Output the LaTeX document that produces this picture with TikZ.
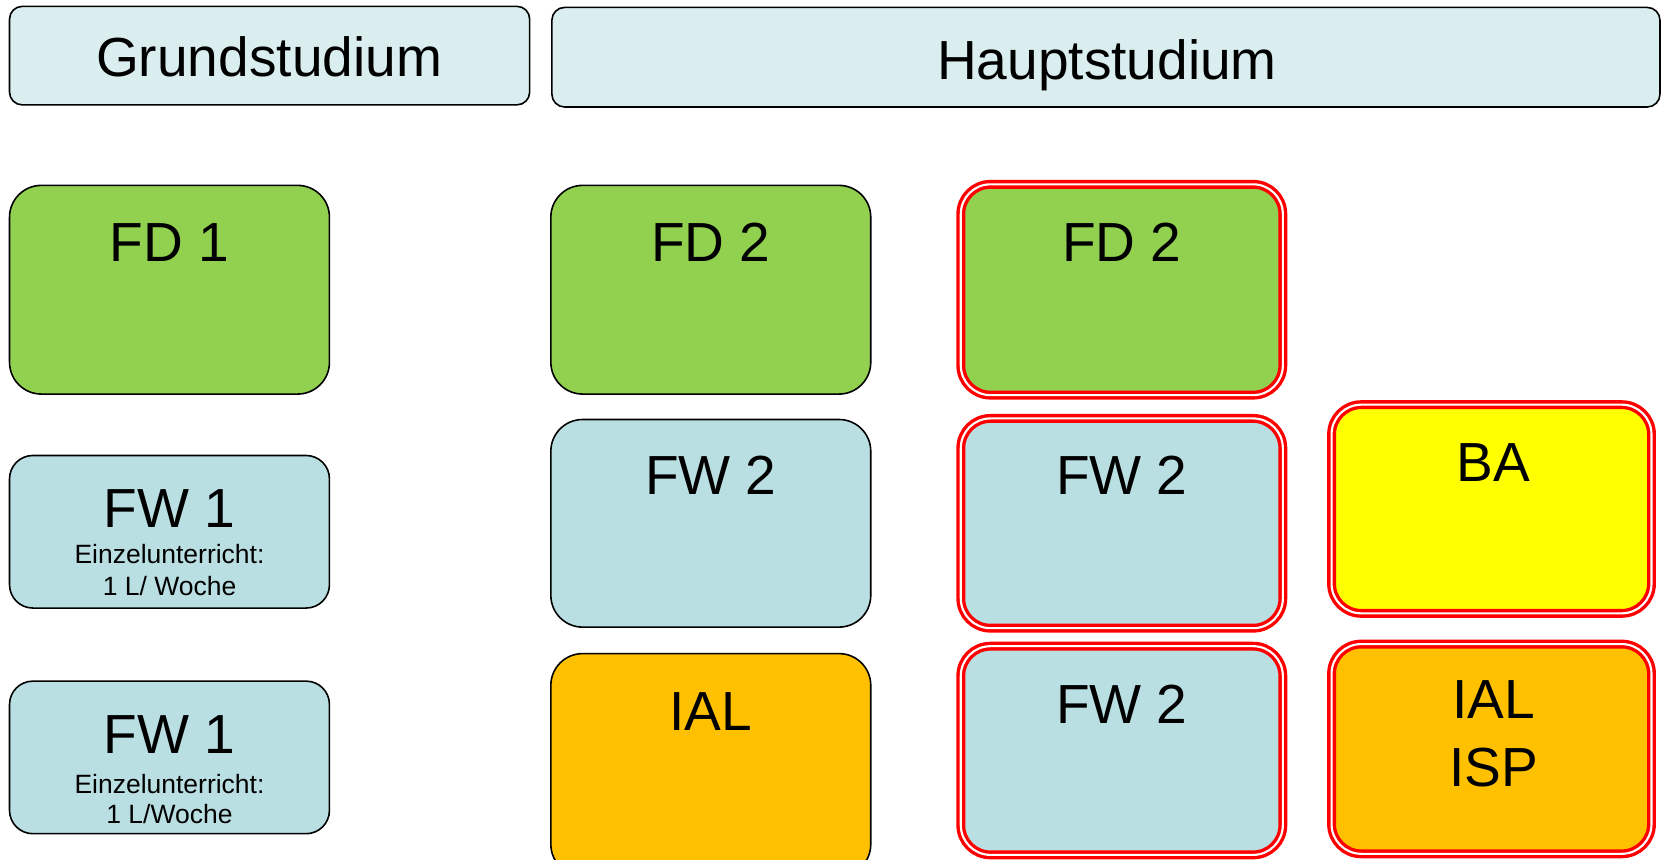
\documentclass[tikz,border=0pt]{standalone}
\usepackage{fontspec}
\setmainfont{Liberation Sans}
\definecolor{hdrfill}{HTML}{DAEEF0}
\definecolor{fwfill}{HTML}{BADFE3}
\definecolor{fdfill}{HTML}{92D050}
\definecolor{ialfill}{HTML}{FFC000}
\definecolor{bafill}{HTML}{FFFF00}
\begin{document}
\begin{tikzpicture}[x=1pt,y=-1pt,
  box/.style={draw=black, line width=1.5pt, rounded corners=30pt, anchor=north west, inner sep=0pt, outer sep=0pt},
  hdr/.style={box, fill=hdrfill, rounded corners=12pt},
  redbox/.style={draw=red, double=white, double distance=2pt, line width=3.2pt, rounded corners=28pt, anchor=north west, inner sep=0pt, outer sep=0pt},
  lbl/.style={anchor=base, inner sep=0pt, font=\fontsize{52}{60}\selectfont},
  sml/.style={anchor=base, inner sep=0pt, font=\fontsize{25}{30}\selectfont}]
\useasboundingbox (0,0) rectangle (1568,811);
\clip (0,0) rectangle (1568,811);
% headers
\node[hdr, minimum width=491pt, minimum height=93pt] (grund) at (9,6) {};
\node[hdr, minimum width=1046pt, minimum height=94pt] (haupt) at (521,7) {};
\node[lbl] (tgrund) at (254,72) {Grundstudium};
\node[lbl] (thaupt) at (1045,75) {Hauptstudium};
% row 1
\node[box, fill=fdfill, minimum width=302pt, minimum height=197pt] (fd1) at (9,175) {};
\node[box, fill=fdfill, minimum width=302pt, minimum height=197pt] (fd2a) at (520,175) {};
\node[redbox, fill=fdfill, minimum width=304pt, minimum height=199pt] (fd2b) at (907,174) {};
\node[lbl] (tfd1) at (160,247) {FD 1};
\node[lbl] (tfd2a) at (671,247) {FD 2};
\node[lbl] (tfd2b) at (1059,247) {FD 2};
% row 2
\node[box, fill=fwfill, rounded corners=22pt, minimum width=302pt, minimum height=144pt] (fw1a) at (9,430) {};
\node[box, fill=fwfill, minimum width=302pt, minimum height=196pt] (fw2a) at (520,396) {};
\node[redbox, fill=fwfill, minimum width=304pt, minimum height=198pt] (fw2b) at (907,395) {};
\node[redbox, fill=bafill, minimum width=302pt, minimum height=197pt] (ba) at (1257,382) {};
\node[lbl] (tfw1a) at (160,498) {FW 1};
\node[sml] (tfw1aa) at (160,532) {Einzelunterricht:};
\node[sml] (tfw1ab) at (160,562) {1 L/ Woche};
\node[lbl] (tfw2a) at (671,467) {FW 2};
\node[lbl] (tfw2b) at (1059,467) {FW 2};
\node[lbl] (tba) at (1410,455) {BA};
% row 3
\node[box, fill=fwfill, rounded corners=22pt, minimum width=302pt, minimum height=144pt] (fw1b) at (9,643) {};
\node[box, fill=ialfill, minimum width=302pt, minimum height=210pt] (ial) at (520,617) {};
\node[redbox, fill=fwfill, minimum width=304pt, minimum height=197pt] (fw2c) at (907,610) {};
\node[redbox, fill=ialfill, minimum width=302pt, minimum height=198pt] (ialisp) at (1257,608) {};
\node[lbl] (tfw1b) at (160,711) {FW 1};
\node[sml] (tfw1ba) at (160,749) {Einzelunterricht:};
\node[sml] (tfw1bb) at (160,777) {1 L/Woche};
\node[lbl] (tial) at (671,690) {IAL};
\node[lbl] (tfw2c) at (1059,683) {FW 2};
\node[lbl] (tial2) at (1410,678) {IAL};
\node[lbl] (tisp) at (1410,742) {ISP};
\end{tikzpicture}
\end{document}
